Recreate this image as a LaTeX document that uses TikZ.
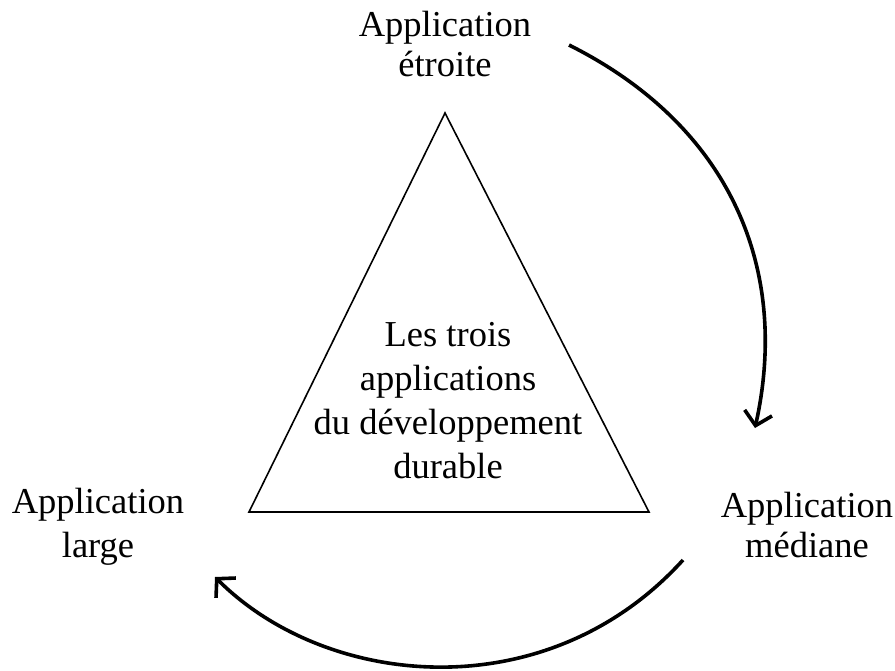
\documentclass[tikz,border=0pt]{standalone}
\usepackage{fontspec}
\setmainfont{Liberation Serif}
\usetikzlibrary{arrows.meta}
\tikzset{
  lbl/.style={align=center, inner sep=0pt, anchor=base, font=\fontsize{36.5}{#1}\selectfont},
  lbl/.default=42,
  tri/.style={draw=black, line width=1.6pt, line join=miter},
  cyc/.style={draw=black, line width=3.6pt, -{Straight Barb[length=13pt,width=28pt,line width=3.6pt]}}
}
\begin{document}
\begin{tikzpicture}[x=1pt,y=-1pt]
\useasboundingbox (0,0) rectangle (895,670);
% labels (anchor = baseline of last line)
\node[lbl=40] (top) at (445,76) {Application\\étroite};
\node[lbl=44] (left) at (98,557) {Application\\large};
\node[lbl=40] (right) at (807,557) {Application\\médiane};
\node[lbl=43.7] (mid) at (448,478) {Les trois\\applications\\du développement\\durable};
% triangle
\coordinate (apex) at (445,113);
\coordinate (bl) at (249,512);
\coordinate (br) at (649,512);
\draw[tri] (apex) -- (br) -- (bl) -- cycle;
% arrows
\coordinate (a1s) at (569,45);
\coordinate (a1e) at (755,428);
\coordinate (a2s) at (683,560);
\coordinate (a2e) at (215,577);
\draw[cyc] (a1s) .. controls (727,124) and (791,265) .. (a1e);
\draw[cyc] (a2s) .. controls (547,710) and (327,689) .. (a2e);
\end{tikzpicture}
\end{document}
